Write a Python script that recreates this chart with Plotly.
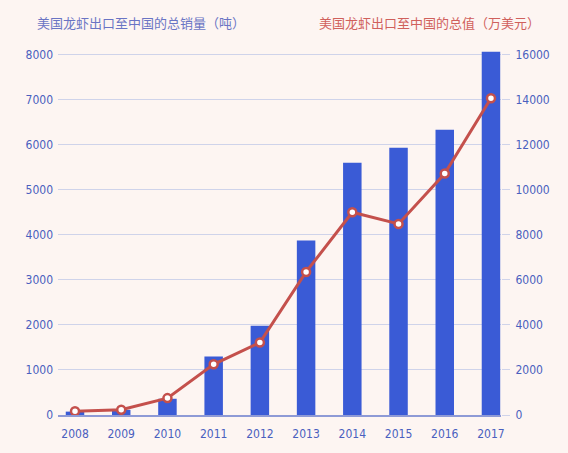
import plotly.graph_objects as go

# %% Data
years = ['2008', '2009', '2010', '2011', '2012',
         '2013', '2014', '2015', '2016', '2017']
volume_tons = [75, 115, 360, 1300, 1980, 3870, 5600, 5930, 6330, 8060]
value_10k_usd = [170, 230, 750, 2250, 3220, 6350, 9000, 8480, 10720, 14060]
left_ticks = [0, 1000, 2000, 3000, 4000, 5000, 6000, 7000, 8000]
right_ticks = [0, 2000, 4000, 6000, 8000, 10000, 12000, 14000, 16000]

left_title = '美国龙虾出口至中国的总销量（吨）'
right_title = '美国龙虾出口至中国的总值（万美元）'

# %% Styles
bg = '#fdf5f2'
bar_blue = '#3a5bd6'
line_red = '#c4504c'
tick_blue = '#4a5fbf'
grid = '#cfd3ea'
num_font = 'DejaVu Sans Condensed, Liberation Sans Narrow, sans-serif'
cjk_font = 'Noto Sans CJK SC, sans-serif'
tick_font = dict(family=num_font, size=12, color=tick_blue)

fig = go.Figure()

fig.add_trace(go.Bar(x=years, y=volume_tons, width=0.4,
                     marker_color=bar_blue, marker_line_width=0,
                     name=left_title))

fig.add_trace(go.Scatter(x=years, y=value_10k_usd, yaxis='y2',
                         mode='lines+markers',
                         line=dict(color=line_red, width=3),
                         marker=dict(size=8, color='white',
                                     line=dict(color=line_red, width=2.5)),
                         name=right_title))

fig.update_layout(
    width=568, height=453,
    margin=dict(l=58, r=67, t=50, b=36),
    paper_bgcolor=bg, plot_bgcolor=bg,
    showlegend=False,
    font=dict(family=num_font, size=12, color=tick_blue),
    xaxis=dict(type='category', range=[-0.368, 9.217],
               showgrid=False, showline=True, linecolor='#8e9ad6',
               linewidth=1.5, ticks='', tickfont=tick_font,
               ticklabelstandoff=7),
    yaxis=dict(range=[0, 8100], tickvals=left_ticks, tickformat='d',
               showgrid=True, gridcolor=grid, gridwidth=1,
               zeroline=False, showline=False, ticks='',
               tickfont=tick_font, ticklabelstandoff=4),
    yaxis2=dict(range=[0, 16200], tickvals=right_ticks, tickformat='d',
                overlaying='y', side='right',
                showgrid=False, zeroline=False, showline=False,
                ticks='outside', ticklen=8, tickcolor=grid,
                tickfont=tick_font, ticklabelstandoff=3),
    annotations=[
        dict(text=left_title, xref='paper', yref='paper',
             x=-0.0519, y=1.0744, xanchor='left', yanchor='middle',
             showarrow=False,
             font=dict(family=cjk_font, size=13, color='#6a74c4')),
        dict(text=right_title, xref='paper', yref='paper',
             x=1.0926, y=1.0744, xanchor='right', yanchor='middle',
             showarrow=False,
             font=dict(family=cjk_font, size=13, color='#d0605c')),
    ],
)

# page has a default body margin, drop it so the figure sits at 0,0
fig.write_html('out.html', config={'displayModeBar': False},
               post_script="document.body.style.margin='0';")
